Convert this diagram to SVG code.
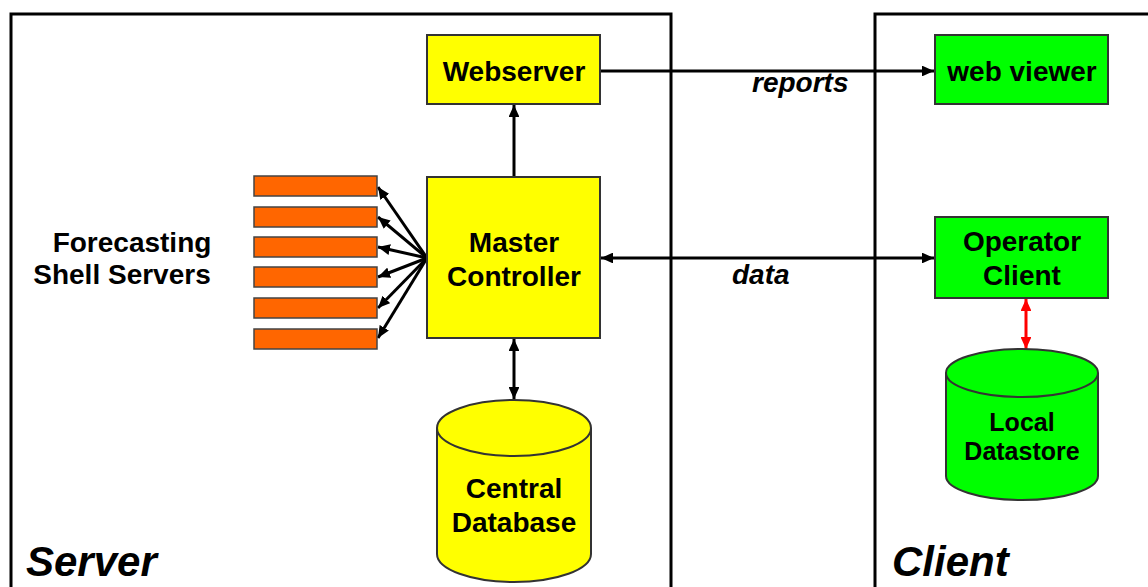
<svg xmlns="http://www.w3.org/2000/svg" width="1148" height="587" viewBox="0 0 1148 587">
<style>
.frame{fill:none;stroke:#000;stroke-width:3}
.box{stroke:#333;stroke-width:2}
.y{fill:#FFFF00}
.g{fill:#00FF00}
.o{fill:#FF6600;stroke:#444;stroke-width:1.5}
.t{font-family:"Liberation Sans",Arial,sans-serif;font-weight:bold;font-size:28px;fill:#000;text-anchor:middle}
.ts{font-size:25px}
.lab{font-family:"Liberation Sans",Arial,sans-serif;font-weight:bold;font-style:italic;font-size:28px;fill:#000}
.big{font-family:"Liberation Sans",Arial,sans-serif;font-weight:bold;font-style:italic;font-size:42px;fill:#000}
.c{fill:none;stroke:#000;stroke-width:3}
.cr{fill:none;stroke:#FF0000;stroke-width:3}
</style>
<defs>
<marker id="ah" viewBox="0 0 10 10" refX="10" refY="5" markerWidth="4" markerHeight="3.6" orient="auto-start-reverse" markerUnits="strokeWidth" preserveAspectRatio="none">
<path d="M0,0 L10,5 L0,10 z" fill="#000"/>
</marker>
<marker id="ahr" viewBox="0 0 10 10" refX="10" refY="5" markerWidth="4" markerHeight="3.6" orient="auto-start-reverse" markerUnits="strokeWidth" preserveAspectRatio="none">
<path d="M0,0 L10,5 L0,10 z" fill="#FF0000"/>
</marker>
</defs>
<rect width="1148" height="587" fill="#fff"/>
<g id="server-frame">
<path class="frame" d="M11,590 V14 H671 V590"/>
<text class="big" x="26" y="576">Server</text>
</g>
<g id="client-frame">
<path class="frame" d="M875,590 V14 H1152"/>
<text class="big" x="892" y="576">Client</text>
</g>
<g id="connectors">
<line class="c" x1="600" y1="71" x2="934" y2="71" marker-end="url(#ah)"/>
<text class="lab" x="752" y="92">reports</text>
<line class="c" x1="514" y1="177" x2="514" y2="105" marker-end="url(#ah)"/>
<line class="c" x1="601" y1="258" x2="934" y2="258" marker-start="url(#ah)" marker-end="url(#ah)"/>
<text class="lab" x="732" y="284">data</text>
<line class="c" x1="514" y1="339" x2="514" y2="399" marker-start="url(#ah)" marker-end="url(#ah)"/>
<line class="cr" x1="1026" y1="299" x2="1026" y2="349" marker-start="url(#ahr)" marker-end="url(#ahr)"/>
<line class="c" x1="427" y1="258" x2="378" y2="187" marker-end="url(#ah)"/>
<line class="c" x1="427" y1="258" x2="378" y2="217" marker-end="url(#ah)"/>
<line class="c" x1="427" y1="258" x2="378" y2="247" marker-end="url(#ah)"/>
<line class="c" x1="427" y1="258" x2="378" y2="277" marker-end="url(#ah)"/>
<line class="c" x1="427" y1="258" x2="378" y2="308" marker-end="url(#ah)"/>
<line class="c" x1="427" y1="258" x2="378" y2="338" marker-end="url(#ah)"/>
</g>
<g id="webserver">
<rect class="box y" x="427" y="35" width="173" height="69"/>
<text class="t" x="514" y="81">Webserver</text>
</g>
<g id="web-viewer">
<rect class="box g" x="935" y="35" width="173" height="69"/>
<text class="t" x="1022" y="81">web viewer</text>
</g>
<g id="master-controller">
<rect class="box y" x="427" y="177" width="173" height="161"/>
<text class="t" x="514" y="252">Master</text>
<text class="t" x="514" y="286">Controller</text>
</g>
<g id="operator-client">
<rect class="box g" x="935" y="217" width="173" height="81"/>
<text class="t" x="1022" y="251">Operator</text>
<text class="t" x="1022" y="285">Client</text>
</g>
<g id="shell-servers">
<rect class="o" x="254" y="176" width="123" height="20"/>
<rect class="o" x="254" y="207" width="123" height="20"/>
<rect class="o" x="254" y="237" width="123" height="20"/>
<rect class="o" x="254" y="267" width="123" height="20"/>
<rect class="o" x="254" y="298" width="123" height="20"/>
<rect class="o" x="254" y="329" width="123" height="20"/>
<text class="t" x="132" y="252">Forecasting</text>
<text class="t" x="122" y="284">Shell Servers</text>
</g>
<g id="central-database">
<path class="box y" d="M437,428 V554 A77,28 0 0 0 591,554 V428"/>
<ellipse class="box y" cx="514" cy="428" rx="77" ry="28"/>
<text class="t" x="514" y="498">Central</text>
<text class="t" x="514" y="532">Database</text>
</g>
<g id="local-datastore">
<path class="box g" d="M946,373 V476 A76,24 0 0 0 1098,476 V373"/>
<ellipse class="box g" cx="1022" cy="373" rx="76" ry="24"/>
<text class="t ts" x="1022" y="431">Local</text>
<text class="t ts" x="1022" y="460">Datastore</text>
</g>
</svg>
